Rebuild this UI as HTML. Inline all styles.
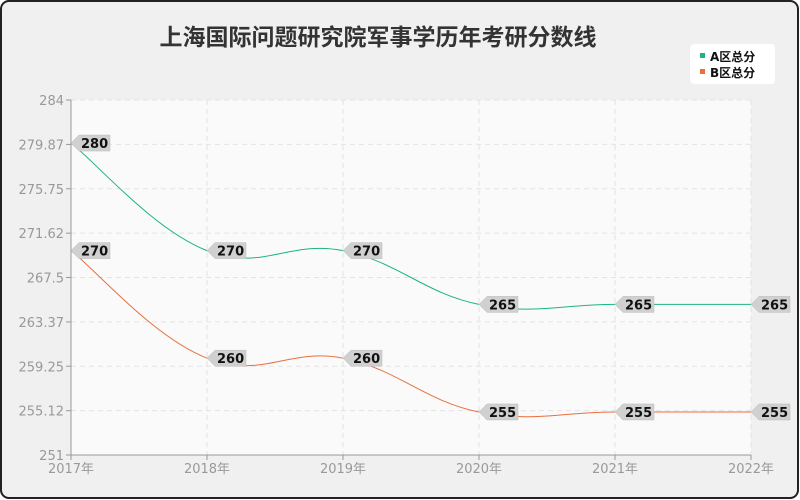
<!DOCTYPE html>
<html><head><meta charset="utf-8"><style>
html,body{margin:0;padding:0;background:#fff}
svg{display:block}
text{font-family:"DejaVu Sans","Noto Sans CJK SC",sans-serif}
</style></head><body>
<svg id="s" width="800" height="500" xmlns="http://www.w3.org/2000/svg">
<rect x="1" y="1" width="797" height="497" rx="8" fill="#f0f0f0" stroke="#222" stroke-width="2"/>
<text x="378" y="45" text-anchor="middle" font-size="23" font-weight="bold" fill="#333" style="font-family:'Noto Sans CJK SC',sans-serif">上海国际问题研究院军事学历年考研分数线</text>
<rect x="690" y="44" width="85" height="40" rx="4" fill="#fff"/>
<rect x="700" y="53" width="5" height="5" fill="#1db385"/>
<text x="710" y="61" font-size="12" font-weight="bold" fill="#111">A区总分</text>
<rect x="700" y="69" width="5" height="5" fill="#e8703f"/>
<text x="710" y="77" font-size="12" font-weight="bold" fill="#111">B区总分</text>
<rect x="71" y="100" width="680" height="355" fill="#fafafa"/>
<g id="grid"></g>
<line x1="71" y1="100" x2="71" y2="455" stroke="#999" stroke-width="1"/>
<line x1="71" y1="455" x2="751" y2="455" stroke="#999" stroke-width="1"/>
<g id="series"></g>
</svg>
<script>
var svg=document.getElementById('s'),g=document.getElementById('grid'),se=document.getElementById('series');
function y(v){return 100+(284-v)*355/33;}
var h='';
var ticks=['284','279.87','275.75','271.62','267.5','263.37','259.25','255.12','251'];
ticks.forEach(function(t){var yy=y(parseFloat(t));
 if(t!='251')h+='<line x1="71" x2="751" y1="'+yy+'" y2="'+yy+'" stroke="#e3e3e3" stroke-dasharray="5,4"/>';
 h+='<line x1="66" x2="71" y1="'+yy+'" y2="'+yy+'" stroke="#999"/>';
 h+='<text x="64" y="'+(yy+5)+'" text-anchor="end" font-size="13" fill="#999">'+t+'</text>';});
var xs=[71,207,343,479,615,751];
xs.forEach(function(x,i){
 if(i>0)h+='<line x1="'+x+'" x2="'+x+'" y1="100" y2="455" stroke="#e3e3e3" stroke-dasharray="5,4"/>';
 h+='<line x1="'+x+'" x2="'+x+'" y1="455" y2="460" stroke="#999"/>';
 h+='<text x="'+x+'" y="473" text-anchor="middle" font-size="13" fill="#999">'+(2017+i)+'年</text>';});
g.innerHTML=h;
function path(vals){var p=vals.map(function(v,i){return [xs[i],y(v)];});var k=0.2;
 var d='M'+p[0][0]+','+p[0][1];
 for(var i=0;i<p.length-1;i++){var a=p[i-1]||p[i],b=p[i],c=p[i+1],e=p[i+2]||p[i+1];
  var c1=[b[0]+k*(c[0]-a[0]),b[1]+k*(c[1]-a[1])],c2=[c[0]-k*(e[0]-b[0]),c[1]-k*(e[1]-b[1])];
  d+=' C'+c1+' '+c2+' '+c;}
 return d;}
var S=[[280,270,270,265,265,265],'#1db385'],T=[[270,260,260,255,255,255],'#e8703f'];
var o='';
[S,T].forEach(function(s){o+='<path d="'+path(s[0])+'" fill="none" stroke="'+s[1]+'" stroke-width="1"/>';});
[S,T].forEach(function(s){s[0].forEach(function(v,i){var x=xs[i],yy=y(v);
 o+='<path d="M'+x+','+yy+' l8,-8 h31 v16 h-31 z" fill="#d0d0d0" stroke="#bbb" stroke-width="0.5"/>';
 o+='<text x="'+(x+10)+'" y="'+(yy+5)+'" font-size="13" font-weight="bold" fill="#111">'+v+'</text>';});});
se.innerHTML=o;
</script>
</body></html>
